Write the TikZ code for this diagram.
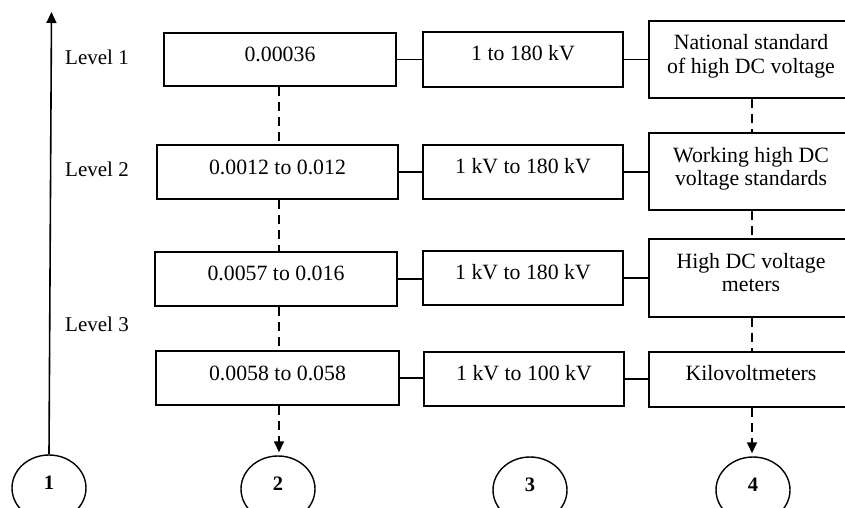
\documentclass[tikz,border=0pt]{standalone}
\usepackage{fontspec}
\setmainfont{Liberation Serif}
\usetikzlibrary{arrows.meta,shapes.geometric}
\tikzset{
  box/.style={draw, rectangle, line width=1.5pt, inner sep=0pt},
  lbl/.style={font=\fontsize{21.8}{23.5}\selectfont, align=center, inner sep=0pt},
  link/.style={line width=1.3pt},
  dlink/.style={line width=1.5pt, dash pattern=on 9pt off 6pt},
  oval/.style={draw, ellipse, line width=1.4pt, minimum width=74pt,
    minimum height=66pt, inner sep=0pt, text depth=10pt,
    font=\fontsize{20.5}{24}\selectfont\bfseries},
  level/.style={anchor=west, inner sep=0pt, font=\fontsize{21}{24}\selectfont},
  tip/.style={-{Triangle[width=10pt,length=11pt]}}
}
\begin{document}
\begin{tikzpicture}[x=1pt,y=-1pt]
\useasboundingbox (0,0) rectangle (845,508);
\clip (0,0) rectangle (845,508);
\fill[white] (0,0) rectangle (845,508);

% column 2: relative uncertainty
\node[box, minimum width=232pt, minimum height=53pt,
  label={[lbl,yshift=5.5pt]center:0.00036}] (a1) at (280,59.5) {};
\node[box, minimum width=241pt, minimum height=54pt,
  label={[lbl,yshift=5pt]center:0.0012 to 0.012}] (a2) at (277.5,172) {};
\node[box, minimum width=242pt, minimum height=54pt,
  label={[lbl,yshift=6pt]center:0.0057 to 0.016}] (a3) at (276,279) {};
\node[box, minimum width=243pt, minimum height=54pt,
  label={[lbl,yshift=5pt]center:0.0058 to 0.058}] (a4) at (277.5,378) {};

% column 3: voltage ranges
\node[box, minimum width=200pt, minimum height=55pt,
  label={[lbl,yshift=6pt]center:1 to 180 kV}] (b1) at (523,59.5) {};
\node[box, minimum width=200pt, minimum height=54pt,
  label={[lbl,yshift=5.5pt]center:1 kV to 180 kV}] (b2) at (523,172) {};
\node[box, minimum width=200pt, minimum height=54pt,
  label={[lbl,yshift=5.5pt]center:1 kV to 180 kV}] (b3) at (523,278) {};
\node[box, minimum width=200pt, minimum height=54pt,
  label={[lbl,yshift=5.5pt]center:1 kV to 100 kV}] (b4) at (524,379) {};

% column 4: measuring instruments
\node[box, minimum width=204pt, minimum height=77pt,
  label={[lbl,yshift=3pt]center:National standard\\of high DC voltage}] (d1) at (751,59.5) {};
\node[box, minimum width=204pt, minimum height=77pt,
  label={[lbl,yshift=2.5pt]center:Working high DC\\voltage standards}] (d2) at (751,171.5) {};
\node[box, minimum width=204pt, minimum height=78pt,
  label={[lbl,yshift=5.5pt]center:High DC voltage\\meters}] (d3) at (751,278) {};
\node[box, minimum width=204pt, minimum height=55pt,
  label={[lbl,yshift=6pt]center:Kilovoltmeters}] (d4) at (751,379.5) {};

% level labels
\node[level] (l1) at (65,57) {Level 1};
\node[level] (l2) at (65,169) {Level 2};
\node[level] (l3) at (65,324) {Level 3};

% column number ovals
\node[oval] (e1) at (49,488) {1};
\node[oval] (e2) at (278,489) {2};
\node[oval] (e3) at (530,490) {3};
\node[oval] (e4) at (753,490) {4};

% vertical guides of the dashed chains
\coordinate (c2) at (279,0);
\coordinate (c4) at (752,0);
\coordinate (axtop) at (51.5,12);

% level axis
\draw[line width=1.6pt, tip] (e1.north) -- (axtop);

% horizontal links
\foreach \i in {1,2,3,4}{
  \draw[link] (a\i.east) -- (a\i.east -| b\i.west);
  \draw[link] (b\i.east) -- (b\i.east -| d\i.west);
}

% dashed chains
\draw[dlink] (a1.south -| c2) -- (a2.north -| c2);
\draw[dlink] (a2.south -| c2) -- (a3.north -| c2);
\draw[dlink] (a3.south -| c2) -- (a4.north -| c2);
\draw[dlink, tip, shorten >=3pt] (a4.south -| c2) -- (e2.north -| c2);

\draw[dlink] (d1.south -| c4) -- (d2.north -| c4);
\draw[dlink] (d2.south -| c4) -- (d3.north -| c4);
\draw[dlink] (d3.south -| c4) -- (d4.north -| c4);
\draw[dlink, tip, shorten >=3pt] (d4.south -| c4) -- (e4.north -| c4);
\end{tikzpicture}
\end{document}
